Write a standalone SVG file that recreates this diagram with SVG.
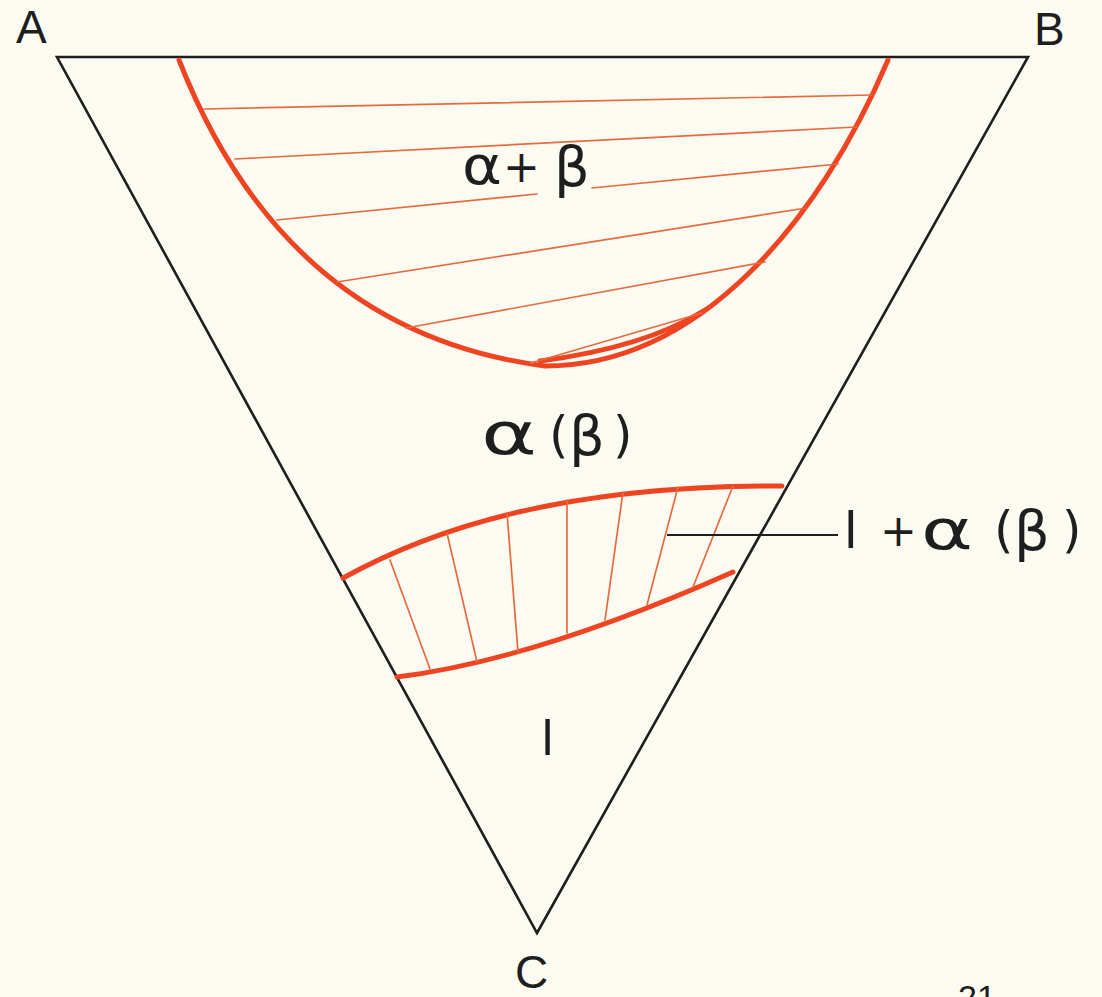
<svg xmlns="http://www.w3.org/2000/svg" width="1102" height="997" viewBox="0 0 1102 997">
<style>
.bg{fill:#fcfbf1}
.tri{fill:none;stroke:#1e1e1e;stroke-width:2.6;stroke-linejoin:miter}
.red{fill:none;stroke:#ee4422;stroke-width:5;stroke-linecap:round}
.hatch{fill:none;stroke:#e56b3e;stroke-width:1.7;stroke-linecap:round}
.lead{fill:none;stroke:#1e1e1e;stroke-width:2}
.lbl{font-family:"Liberation Sans",Arial,sans-serif;fill:#1e1e1e}
.gr{font-family:"DejaVu Sans","Noto Sans",sans-serif;fill:#1e1e1e}
</style>
<rect class="bg" x="0" y="0" width="1102" height="997"/>
<g id="triangle">
<path class="tri" d="M57,57 L1028,57 L537,933 Z"/>
</g>
<g id="vertex-labels">
<text id="label-A" class="lbl" x="16" y="43" font-size="46">A</text>
<text id="label-B" class="lbl" x="1034" y="45" font-size="46">B</text>
<text id="label-C" class="lbl" x="515" y="988" font-size="46">C</text>
</g>
<g id="region-alpha-plus-beta">
<path class="red" d="M179,60 C230,190 330,338 545,366 C700,366 820,220 888,60"/>
<path class="red" stroke-width="3" d="M540,361 C610,352 665,335 705,310"/>
<path class="hatch" d="M204,109 L872,95"/>
<path class="hatch" d="M235,159 L857,127"/>
<path class="hatch" d="M277,220 L537,194"/>
<path class="hatch" d="M592,188 L838,164"/>
<path class="hatch" d="M337,282 L806,208"/>
<path class="hatch" d="M406,328 L765,262"/>
<path class="hatch" d="M531,363 L702,313"/>
<text class="gr" font-size="54" x="462" y="184" textLength="40" lengthAdjust="spacingAndGlyphs">α</text>
<text class="gr" font-size="44" x="503" y="182">+</text>
<text class="gr" font-size="56" x="554" y="186">β</text>
</g>
<g id="region-alpha-beta">
<text class="gr" font-size="58" x="481" y="454" textLength="56" lengthAdjust="spacingAndGlyphs">α</text>
<text class="gr" font-size="50" x="549" y="452">(</text>
<text class="gr" font-size="56" x="569" y="455">β</text>
<text class="gr" font-size="50" x="613" y="452">)</text>
</g>
<g id="region-l-plus-alpha-beta">
<path class="red" stroke-width="5.5" d="M343,578 C430,530 560,485 782,486"/>
<path class="red" stroke-width="5.5" d="M397,677 C470,668 580,640 733,572"/>
<path class="hatch" d="M390,560 L430,669"/>
<path class="hatch" d="M447,533 L477,662"/>
<path class="hatch" d="M507,513 L518,652"/>
<path class="hatch" d="M567,500 L567,633"/>
<path class="hatch" d="M623,492 L605,620"/>
<path class="hatch" d="M678,487 L647,605"/>
<path class="hatch" d="M733,486 L693,587"/>
</g>
<g id="region-l">
<text class="lbl" font-size="50" x="542" y="755">l</text>
</g>
<g id="connectors">
<path class="lead" d="M667,535 L838,535"/>
</g>
<g id="label-l-plus-alpha-beta">
<text class="lbl" font-size="52" x="845" y="548">l</text>
<text class="gr" font-size="44" x="880" y="546">+</text>
<text class="gr" font-size="56" x="921" y="549" textLength="52" lengthAdjust="spacingAndGlyphs">α</text>
<text class="gr" font-size="50" x="994" y="547">(</text>
<text class="gr" font-size="56" x="1014" y="550">β</text>
<text class="gr" font-size="50" x="1062" y="547">)</text>
</g>
<text id="page-number" class="lbl" x="958" y="1009" font-size="34">21</text>
</svg>
